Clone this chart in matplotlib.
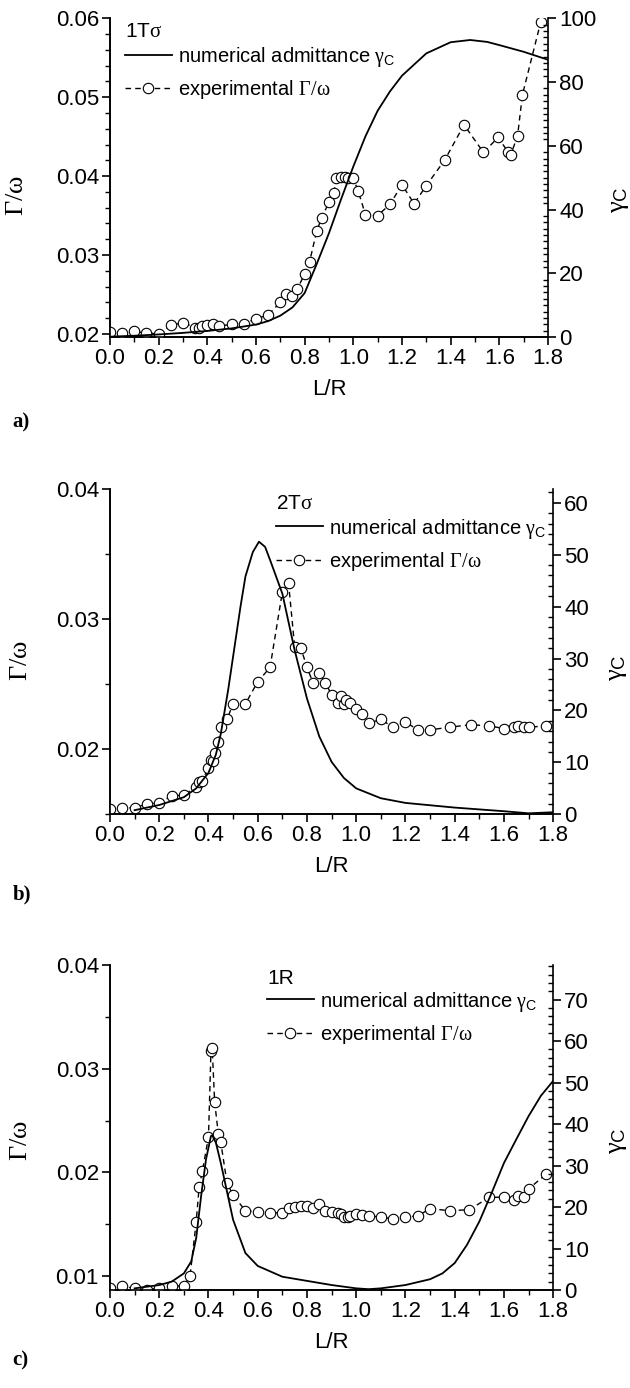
import numpy as np
import matplotlib.pyplot as plt
from matplotlib.lines import Line2D
from matplotlib.ticker import MultipleLocator

plt.rcParams['font.family'] = ['Liberation Sans', 'DejaVu Sans']
plt.rcParams['mathtext.fontset'] = 'custom'
plt.rcParams['mathtext.rm'] = 'Liberation Serif'
plt.rcParams['mathtext.it'] = 'Liberation Serif'
plt.rcParams['mathtext.sf'] = 'Liberation Sans'

# ---- panel a) 1T sigma ----
a_exp_x = [0.0, 0.05, 0.10, 0.15, 0.20, 0.25, 0.30, 0.35, 0.365, 0.38, 0.40, 0.425, 0.45,
           0.50, 0.55, 0.60, 0.65, 0.70, 0.725, 0.75, 0.77, 0.80, 0.82, 0.85, 0.87, 0.90,
           0.92, 0.93, 0.95, 0.965, 0.98, 1.0, 1.02, 1.05, 1.10, 1.15, 1.20, 1.25, 1.30,
           1.375, 1.455, 1.535, 1.595, 1.635, 1.647, 1.675, 1.695, 1.77]
a_exp_y = [0.0202, 0.0201, 0.0203, 0.0201, 0.0200, 0.0211, 0.0214, 0.0208, 0.0208, 0.0210,
           0.0211, 0.0212, 0.0210, 0.0212, 0.0213, 0.0219, 0.0224, 0.0240, 0.0251, 0.0248,
           0.0257, 0.0276, 0.0291, 0.0331, 0.0347, 0.0367, 0.0379, 0.0397, 0.0399, 0.0399,
           0.0397, 0.0397, 0.0381, 0.0351, 0.0350, 0.0364, 0.0389, 0.0365, 0.0388, 0.0420,
           0.0465, 0.0430, 0.0449, 0.0431, 0.0427, 0.0451, 0.0503, 0.0595]
a_num_x = [0.0, 0.1, 0.2, 0.3, 0.4, 0.5, 0.6, 0.65, 0.7, 0.75, 0.8, 0.85, 0.9, 0.95, 1.0,
           1.05, 1.1, 1.15, 1.2, 1.3, 1.4, 1.48, 1.55, 1.6, 1.7, 1.8]
a_num_y = [0.1, 0.4, 0.8, 1.3, 1.9, 2.7, 3.9, 5.0, 6.7, 9.3, 13.8, 23.0, 32.6, 43.3, 53.5,
           63.0, 71.0, 77.0, 82.0, 89.0, 92.5, 93.2, 92.6, 91.6, 89.5, 87.0]

# ---- panel b) 2T sigma ----
b_exp_x = [0.0, 0.05, 0.10, 0.15, 0.20, 0.25, 0.30, 0.35, 0.36, 0.375, 0.40, 0.41, 0.42,
           0.425, 0.44, 0.45, 0.475, 0.50, 0.55, 0.60, 0.65, 0.70, 0.725, 0.75, 0.775, 0.80,
           0.825, 0.85, 0.875, 0.90, 0.925, 0.94, 0.95, 0.96, 0.975, 1.0, 1.025, 1.05, 1.10,
           1.15, 1.20, 1.25, 1.30, 1.38, 1.465, 1.54, 1.60, 1.64, 1.655, 1.68, 1.70, 1.77]
b_exp_y = [0.01538, 0.0155, 0.0155, 0.0158, 0.0159, 0.0164, 0.0165, 0.0171, 0.0175, 0.0176,
           0.0186, 0.0192, 0.0191, 0.0197, 0.0206, 0.0217, 0.0223, 0.0235, 0.0235, 0.0252,
           0.0263, 0.0321, 0.0328, 0.0279, 0.0278, 0.0263, 0.0251, 0.0259, 0.0251, 0.0242,
           0.0236, 0.0241, 0.0235, 0.0238, 0.0236, 0.0231, 0.0227, 0.0220, 0.0223, 0.0217,
           0.0221, 0.0215, 0.0215, 0.0217, 0.0219, 0.0218, 0.0216, 0.0217, 0.0218, 0.0217,
           0.0217, 0.0218]
b_num_x = [0.1, 0.2, 0.3, 0.35, 0.4, 0.43, 0.45, 0.48, 0.5, 0.53, 0.55, 0.58, 0.605, 0.63,
           0.65, 0.7, 0.75, 0.8, 0.85, 0.9, 0.95, 1.0, 1.1, 1.2, 1.4, 1.6, 1.7, 1.8]
b_num_y = [0.8, 1.8, 3.3, 5.0, 8.0, 11.5, 15.5, 24.0, 30.4, 40.0, 45.8, 50.5, 52.5, 51.5,
           49.0, 42.5, 31.6, 22.3, 15.0, 10.1, 7.0, 5.0, 3.1, 2.2, 1.3, 0.6, 0.2, 0.4]

# ---- panel c) 1R ----
c_exp_x = [0.0, 0.05, 0.10, 0.15, 0.20, 0.25, 0.30, 0.325, 0.35, 0.362, 0.375, 0.40, 0.41,
           0.415, 0.425, 0.44, 0.45, 0.475, 0.50, 0.55, 0.60, 0.65, 0.70, 0.725, 0.75, 0.775,
           0.80, 0.825, 0.85, 0.875, 0.90, 0.925, 0.94, 0.95, 0.965, 0.975, 1.0, 1.025, 1.05,
           1.10, 1.15, 1.20, 1.25, 1.30, 1.38, 1.46, 1.54, 1.60, 1.64, 1.655, 1.68, 1.70, 1.77]
c_exp_y = [0.00888, 0.00904, 0.00881, 0.00865, 0.00888, 0.00904, 0.00904, 0.0100, 0.0152,
           0.0186, 0.0201, 0.0234, 0.0317, 0.0320, 0.0268, 0.0237, 0.0229, 0.0190, 0.0178,
           0.0163, 0.0162, 0.0161, 0.0161, 0.0166, 0.0167, 0.0168, 0.0168, 0.0166, 0.0169,
           0.0163, 0.0162, 0.0161, 0.0160, 0.0157, 0.0157, 0.0158, 0.0160, 0.0159, 0.0158,
           0.0157, 0.0155, 0.0157, 0.0158, 0.0165, 0.0163, 0.0164, 0.0176, 0.0176, 0.0173,
           0.0177, 0.0176, 0.0184, 0.0198]
c_num_x = [0.1, 0.2, 0.25, 0.3, 0.33, 0.35, 0.37, 0.39, 0.41, 0.415, 0.43, 0.45, 0.5, 0.55,
           0.6, 0.7, 0.8, 0.9, 1.0, 1.05, 1.1, 1.2, 1.3, 1.35, 1.4, 1.45, 1.5, 1.55, 1.6,
           1.65, 1.7, 1.75, 1.8]
c_num_y = [0.4, 1.2, 2.0, 4.0, 6.9, 12.5, 22.6, 31.5, 37.1, 37.3, 35.5, 30.6, 16.9, 8.9,
           5.8, 3.2, 2.2, 1.2, 0.4, 0.2, 0.4, 1.2, 2.6, 4.0, 6.5, 10.9, 16.5, 23.4, 30.6,
           36.3, 41.9, 46.8, 50.4]

panels = [
    # exp x, exp y, num x, num y, left lim, right lim, left major, left minor, right major,
    # title, tag, axes rect, legend pos, ylabel pos left/right
    (a_exp_x, a_exp_y, a_num_x, a_num_y, (0.0196, 0.06), (0, 100), 0.01, 0.002, 20,
     r'1T$\sigma$', 'a)', [0.1746, 0.7572, 0.6952, 0.2296], (0.035, 0.96, 0.877, 0.782),
     ((-0.187, 0.445), (1.135, 0.43))),
    (b_exp_x, b_exp_y, b_num_x, b_num_y, (0.015, 0.04), (0, 62.6), 0.01, 0.005, 10,
     r'2T$\sigma$', 'b)', [0.1746, 0.4133, 0.7035, 0.2342], (0.375, 0.957, 0.88, 0.78),
     ((-0.175, 0.474), (1.116, 0.45))),
    (c_exp_x, c_exp_y, c_num_x, c_num_y, (0.00865, 0.04), (0, 78.3), 0.01, 0.005, 10,
     '1R', 'c)', [0.1746, 0.0706, 0.7035, 0.2341], (0.355, 0.96, 0.887, 0.79),
     ((-0.175, 0.46), (1.116, 0.46))),
]
tag_y = [0.692, 0.352, 0.0164]

fig = plt.figure(figsize=(6.3, 13.88), dpi=100)

for i, (ex, ey, nx, ny, llim, rlim, lmaj, lmin, rmaj, title, tag, rect, lpos, labpos) in enumerate(panels):
    ax = fig.add_axes(rect)
    ax2 = ax.twinx()

    ax.plot(ex, ey, color='black', ls=(0, (4, 3)), lw=1.0, marker='o', ms=7.5,
            mfc='white', mec='black', mew=0.8, zorder=3)
    ax2.plot(nx, ny, color='black', lw=1.3)

    ax.set_xlim(0, 1.8)
    ax.set_ylim(*llim)
    ax2.set_ylim(*rlim)

    ax.xaxis.set_major_locator(MultipleLocator(0.2))
    ax.xaxis.set_minor_locator(MultipleLocator(0.1))
    ax.yaxis.set_major_locator(MultipleLocator(lmaj))
    ax.yaxis.set_minor_locator(MultipleLocator(lmin))
    ax2.yaxis.set_major_locator(MultipleLocator(rmaj))
    ax2.yaxis.set_minor_locator(MultipleLocator(2))
    ax.xaxis.set_major_formatter(plt.FormatStrFormatter('%.1f'))
    ax.yaxis.set_major_formatter(plt.FormatStrFormatter('%.2f'))

    for a in (ax, ax2):
        a.spines['top'].set_visible(False)
        for s in a.spines.values():
            s.set_linewidth(1.2)
    ax.spines['right'].set_visible(False)

    ax.tick_params(which='major', direction='out', length=6, width=1.2, labelsize=16, pad=2)
    ax.tick_params(which='minor', direction='out', length=3.5, width=1.0)
    ax2.tick_params(which='major', direction='out', length=6, width=1.2, labelsize=16, pad=2)
    ax2.tick_params(which='minor', direction='in', length=3.5, width=1.0)

    ax.set_xlabel('L/R', fontsize=16, labelpad=7)
    ax.set_ylabel(r'$\Gamma/\omega$', fontsize=19)
    ax2.set_ylabel(r'$\gamma_{\mathsf{C}}$', fontsize=19)
    ax.yaxis.set_label_coords(*labpos[0])
    ax2.yaxis.set_label_coords(*labpos[1])

    ax.text(lpos[0], lpos[1], title, transform=ax.transAxes, fontsize=15, va='center', ha='left')
    handles = [Line2D([], [], color='black', lw=1.3),
               Line2D([], [], color='black', ls=(0, (4, 3)), lw=1.0, marker='o', ms=7.5,
                      mfc='white', mec='black', mew=0.8)]
    labels = [r'numerical admittance $\gamma_{\mathsf{C}}$', r'experimental $\Gamma/\omega$']
    leg = ax2.legend(handles, labels, loc='center left', bbox_to_anchor=(lpos[0], (lpos[2] + lpos[3]) / 2),
                     frameon=False, fontsize=14.5, handlelength=2.3, handletextpad=0.3,
                     labelspacing=0.45, borderaxespad=0, borderpad=0)

    fig.text(0.02, tag_y[i], tag, fontsize=15, fontweight='bold', family='Liberation Serif')

fig.savefig('out.png', dpi=100)
